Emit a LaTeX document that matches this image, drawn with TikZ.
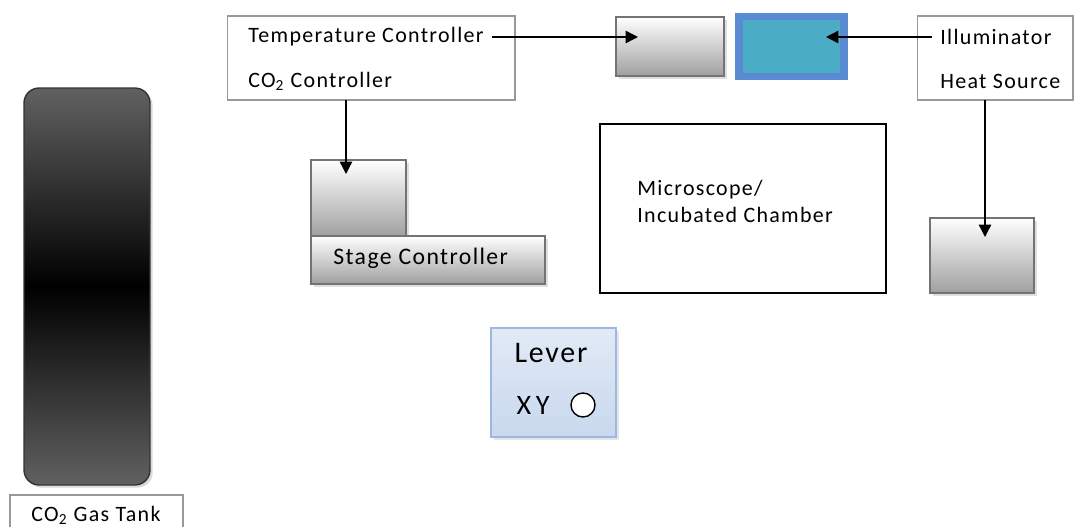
\documentclass[tikz,border=0pt]{standalone}
\usepackage{fontspec}
\setmainfont{Carlito}[LetterSpace=6]
\usetikzlibrary{arrows.meta,shadows}
\definecolor{tealfill}{HTML}{4BACC6}
\definecolor{blueedge}{HTML}{5A8AD2}
\definecolor{leverfill}{HTML}{C9D8EE}
\definecolor{leveredge}{HTML}{9DB8E0}
\tikzset{
  plainbox/.style={draw=gray!80, line width=0.6pt, fill=white},
  greybox/.style={draw=gray!90!black, line width=0.7pt, top color=white, bottom color=gray!75,
    drop shadow={shadow xshift=1.5pt, shadow yshift=-1.5pt, opacity=0.25}},
  label/.style={anchor=west, font=\fontsize{12.5}{14}\selectfont, inner sep=0pt},
  link/.style={-{Triangle[length=7pt,width=7pt]}, line width=0.8pt}
}
\begin{document}
\begin{tikzpicture}[x=0.02cm, y=-0.02cm]
\useasboundingbox (0,0) rectangle (1075,527);
% controllers
\node[plainbox, minimum width=5.76cm, minimum height=1.68cm] (ctrl) at (371,58) {};
\node[label] (temp) at (248,37) {Temperature Controller};
\node[label] (co2) at (248,81) {CO\textsubscript{2} Controller};
% top boxes
\node[greybox, minimum width=2.16cm, minimum height=1.18cm] (cam) at (670,46.5) {};
\node[draw=blueedge, line width=4.5pt, fill=tealfill,
      drop shadow={shadow xshift=1.5pt, shadow yshift=-1.5pt, opacity=0.25},
      minimum width=2.1cm, minimum height=1.2cm] (lamp) at (791.5,46.5) {};
\node[plainbox, minimum width=3.12cm, minimum height=1.68cm] (illum) at (995,58) {};
\node[label] (illtxt) at (940,37) {Illuminator};
\node[label] (heattxt) at (940,81) {Heat Source};
% stage
\node[greybox, minimum width=1.9cm, minimum height=1.54cm] (stagetop) at (358.5,198.5) {};
\node[greybox, minimum width=4.68cm, minimum height=0.96cm] (stage) at (428,260) {};
\node[label, font=\fontsize{13.5}{15}\selectfont] (stagetxt) at (333,258) {Stage Controller};
% chamber
\node[draw, line width=0.8pt, minimum width=5.72cm, minimum height=3.38cm] (chamber) at (743,208.5) {};
\node[label] (mictxt) at (637,190) {Microscope/};
\node[label] (inctxt) at (637,215) {Incubated Chamber};
% heater
\node[greybox, minimum width=2.08cm, minimum height=1.5cm] (heater) at (982,255.5) {};
% lever
\node[draw=leveredge, line width=0.8pt, top color=leverfill!55, bottom color=leverfill,
      drop shadow={shadow xshift=1.5pt, shadow yshift=-1.5pt, opacity=0.2},
      minimum width=2.5cm, minimum height=2.18cm] (lever) at (553.5,382.5) {};
\node[font=\fontsize{17}{19}\selectfont, inner sep=0pt] (levtxt) at (551,353) {Lever};
\node[font=\fontsize{16}{18}\selectfont, inner sep=0pt] (xytxt) at (533,405) {X\,Y};
\node[draw, circle, fill=white, line width=0.8pt, minimum size=0.48cm, inner sep=0pt] (knob) at (583,405) {};
% gas tank
\node[draw=black!80, line width=0.8pt, rounded corners=0.3cm, minimum width=2.52cm, minimum height=7.94cm,
      top color=black!62, bottom color=black!62, middle color=black,
      drop shadow={shadow xshift=1.5pt, shadow yshift=-1.5pt, opacity=0.3}] (tank) at (87,286.5) {};
\node[plainbox, minimum width=3.46cm, minimum height=0.9cm] (tankbox) at (96.5,517.5) {};
\node[font=\fontsize{12.5}{14}\selectfont, inner sep=0pt] (tanktxt) at (96,515) {CO\textsubscript{2} Gas Tank};
% arrow ends
\coordinate (camin) at (638,37);
\coordinate (lampin) at (826,37);
\coordinate (stagein) at (346,174);
\coordinate (heatin) at (985,237);
\draw[link] (temp.east) ++(8,0) -- (camin);
\draw[link] (illtxt.west) ++(-8,0) -- (lampin);
\draw[link] (346,100) -- (stagein);
\draw[link] (985,100) -- (heatin);
\end{tikzpicture}
\end{document}
